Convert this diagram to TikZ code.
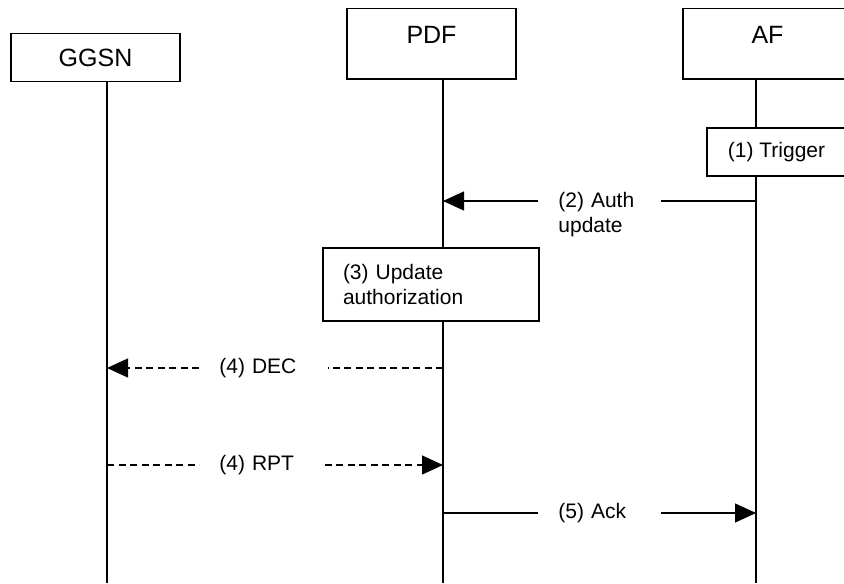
\documentclass[tikz,border=0pt]{standalone}
\usepackage{fontspec}
\setmainfont{Liberation Sans}
\usepackage{tikz}
\usetikzlibrary{positioning, arrows.meta, calc}
\tikzstyle{entity}=[draw=black, line width=0.65pt, minimum width=84.5pt, inner sep=0pt, font=\fontsize{12.5}{15}\selectfont]
\tikzstyle{actionBox}=[draw=black, fill=white, line width=0.65pt, inner sep=0pt, font=\fontsize{10.5}{12.5}\selectfont]
\tikzstyle{lifeLine}=[draw=black, line width=0.65pt]
\tikzstyle{plainLine}=[draw=black, line width=0.6pt]
\tikzstyle{msg}=[plainLine, -{Triangle[length=10.5pt, width=9.5pt]}]
\tikzstyle{dashLine}=[plainLine, dash pattern=on 3.5pt off 2.25pt]
\tikzstyle{dashMsg}=[msg, dash pattern=on 3.5pt off 2.25pt]
\tikzstyle{msgLbl}=[inner xsep=10pt, inner ysep=0pt, align=left, font=\fontsize{10.5}{12.5}\selectfont]

\begin{document}
\begin{tikzpicture}[x=0.5pt, y=-0.5pt]
      \clip (0,0) rectangle (844,583);
      \node[entity, minimum height=24pt, anchor=north] (ggsn) at (95.5,33) {GGSN};
      \node[entity, text height=17.75pt, text depth=17.5pt, anchor=base] (pdf) at (431.5,44) {PDF};
      \node[entity, text height=17.75pt, text depth=17.5pt, anchor=base] (af) at (767.5,44) {AF};
      \coordinate (ggsn-end) at (107,583);
      \coordinate (pdf-end) at (443,583);
      \coordinate (af-end) at (756,583);
      \foreach \p in {ggsn,pdf,af}
      \draw[lifeLine] (\p-end |- \p.south) -- (\p-end);

      \node[actionBox, minimum width=69.5pt, minimum height=24pt] (trigger) at (776.5,152) {(1) Trigger};

      \coordinate (af2) at (756,201);
      \coordinate (pdf2) at (443,201);
      \node[msgLbl, text width=41pt, anchor=base west] (authLbl) at (538,207.5) {(2) Auth\\update};
      \draw[plainLine] (af2) -- (authLbl.east |- af2);
      \draw[msg] (authLbl.west |- af2) -- (pdf2);

      \node[actionBox, text width=88pt, inner xsep=10pt, minimum height=36.5pt, align=left] (update) at (431,284.5) {(3) Update\\authorization};

      \coordinate (pdf4a) at (443,368);
      \coordinate (ggsn4a) at (107,368);
      \node[msgLbl, text width=44pt, anchor=west] (decLbl) at (199,368) {(4) DEC};
      \draw[dashLine] (pdf4a) -- (decLbl.east |- pdf4a);
      \draw[dashMsg] (decLbl.west |- pdf4a) -- (ggsn4a);

      \coordinate (ggsn4b) at (107,465);
      \coordinate (pdf4b) at (443,465);
      \node[msgLbl, text width=42.5pt, anchor=west] (rptLbl) at (199,465) {(4) RPT};
      \draw[dashLine] (ggsn4b) -- (rptLbl.west |- ggsn4b);
      \draw[dashMsg] (rptLbl.east |- ggsn4b) -- (pdf4b);

      \coordinate (pdf5) at (443,513);
      \coordinate (af5) at (756,513);
      \node[msgLbl, text width=41pt, anchor=west] (ackLbl) at (538,513) {(5) Ack};
      \draw[plainLine] (pdf5) -- (ackLbl.west |- pdf5);
      \draw[msg] (ackLbl.east |- pdf5) -- (af5);
    \end{tikzpicture}
\end{document}
